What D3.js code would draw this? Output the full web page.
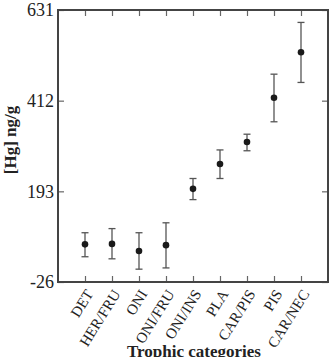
<!DOCTYPE html>
<html>
<head>
<meta charset="utf-8">
<script src="https://cdn.jsdelivr.net/npm/d3@7"></script>
<style>
  body { margin: 0; background: #fff; }
  svg text { font-family: "Liberation Serif", "DejaVu Serif", serif; fill: #222; }
</style>
</head>
<body>
<div id="chart"></div>
<script>
// trophic categories and mean [Hg] with error bar ends
var categories = ["DET", "HER/FRU", "ONI", "ONI/FRU", "ONI/INS", "PLA", "CAR/PIS", "PIS", "CAR/NEC"];
var means = [65, 66, 49, 63, 199, 259, 312, 419, 529];
var lower = [35, 30, 5, 8, 173, 224, 291, 361, 456];
var upper = [93, 103, 93, 117, 224, 293, 331, 476, 601];
var yTicks = [-26, 193, 412, 631];

function drawChart() {
  var svgWidth = 336, svgHeight = 357;
  var margin = { top: 10, right: 8, bottom: 75, left: 58 };
  var width = svgWidth - margin.left - margin.right;
  var height = svgHeight - margin.top - margin.bottom;

  var svg = d3.select("#chart").append("svg")
    .attr("width", svgWidth)
    .attr("height", svgHeight);

  var g = svg.append("g")
    .attr("transform", `translate(${margin.left}, ${margin.top})`);

  var data = categories.map(function(c, i) {
    return { cat: c, idx: i + 1, mean: means[i], lo: lower[i], hi: upper[i] };
  });

  var x = d3.scaleLinear().domain([0, 10]).range([0, width]);
  var y = d3.scaleLinear().domain([-26, 631]).range([height, 0]);

  var tickColor = "#666";

  // left axis with labels
  var leftAxis = g.append("g").call(d3.axisLeft(y).tickValues(yTicks).tickSize(-6).tickPadding(4)
    .tickFormat(d => String(d)));
  leftAxis.selectAll("text").attr("font-size", 18);
  // right axis, ticks only
  var rightAxis = g.append("g").attr("transform", `translate(${width},0)`)
    .call(d3.axisRight(y).tickValues(yTicks).tickSize(-6).tickFormat(""));
  // bottom axis with rotated labels
  var bottomAxis = g.append("g").attr("transform", `translate(0,${height})`)
    .call(d3.axisBottom(x).tickValues(d3.range(1, 10)).tickSize(-6)
      .tickFormat(function(d) { return categories[d - 1]; }));
  bottomAxis.selectAll("text")
    .attr("font-size", 15)
    .attr("text-anchor", "end")
    .attr("dy", "0.35em")
    .attr("transform", "translate(4,9) rotate(-58)")
    .attr("x", 0).attr("y", 0);
  // top axis, ticks only
  var topAxis = g.append("g")
    .call(d3.axisTop(x).tickValues(d3.range(1, 10)).tickSize(-6).tickFormat(""));

  [leftAxis, rightAxis, bottomAxis, topAxis].forEach(function(a) {
    a.select(".domain").remove();
    a.selectAll(".tick line").attr("stroke", tickColor).attr("stroke-width", 1.2);
  });

  // frame
  g.append("rect")
    .attr("x", 0).attr("y", 0)
    .attr("width", width).attr("height", height)
    .attr("fill", "none")
    .attr("stroke", "#444")
    .attr("stroke-width", 2);

  // error bars
  var bars = g.append("g").selectAll("g").data(data).enter().append("g");
  bars.append("line")
    .attr("x1", d => x(d.idx)).attr("x2", d => x(d.idx))
    .attr("y1", d => y(d.lo)).attr("y2", d => y(d.hi))
    .attr("stroke", "#555").attr("stroke-width", 1.3);
  bars.append("line")
    .attr("x1", d => x(d.idx) - 3.5).attr("x2", d => x(d.idx) + 3.5)
    .attr("y1", d => y(d.lo)).attr("y2", d => y(d.lo))
    .attr("stroke", "#555").attr("stroke-width", 1.3);
  bars.append("line")
    .attr("x1", d => x(d.idx) - 3.5).attr("x2", d => x(d.idx) + 3.5)
    .attr("y1", d => y(d.hi)).attr("y2", d => y(d.hi))
    .attr("stroke", "#555").attr("stroke-width", 1.3);
  bars.append("circle")
    .attr("cx", d => x(d.idx)).attr("cy", d => y(d.mean))
    .attr("r", 3.3)
    .attr("fill", "#1a1a1a");

  // axis titles
  g.append("text")
    .attr("transform", "rotate(-90)")
    .attr("x", -height / 2 + 6)
    .attr("y", -42)
    .attr("text-anchor", "middle")
    .attr("font-size", 17)
    .attr("font-weight", "bold")
    .text("[Hg] ng/g");

  g.append("text")
    .attr("x", width / 2 + 1)
    .attr("y", height + 75)
    .attr("text-anchor", "middle")
    .attr("font-size", 17)
    .attr("font-weight", "bold")
    .text("Trophic categories");
}
drawChart();
</script>
</body>
</html>
